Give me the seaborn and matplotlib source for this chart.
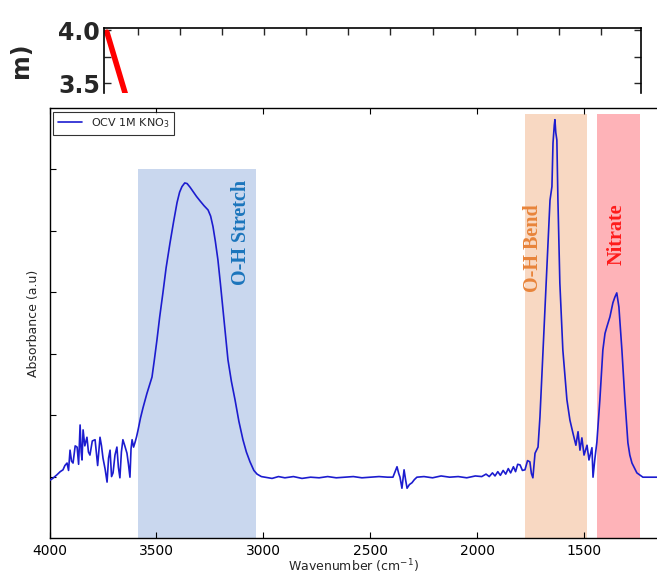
import numpy as np
import pandas as pd
import matplotlib
matplotlib.use("Agg")
import matplotlib.pyplot as plt
import seaborn as sns

sns.set_style("white")
plt.rcParams['font.family'] = ['DejaVu Sans']

# ---------------- data ----------------
wavenumber = [
    3998, 3985, 3965, 3950, 3937, 3928, 3918, 3911, 3904, 3897, 3890, 3880, 3871, 3864, 3857,
    3852, 3848, 3843, 3835, 3825, 3818, 3811, 3800, 3787, 3775, 3764, 3757, 3750, 3740, 3731,
    3724, 3717, 3710, 3703, 3694, 3685, 3678, 3671, 3664, 3657, 3648, 3638, 3631, 3624, 3619,
    3614, 3607, 3600, 3593, 3586,
    3575, 3563, 3545, 3521, 3510, 3498, 3485, 3470, 3455, 3437, 3420, 3404, 3392, 3381, 3368,
    3357, 3343, 3329, 3313, 3297, 3278, 3259, 3247, 3236, 3225, 3213, 3201, 3189, 3177, 3166,
    3150, 3133, 3115, 3096, 3080, 3063, 3045, 3030, 3010, 2993,
    2960, 2930, 2900, 2860, 2820, 2780, 2740, 2700, 2660, 2620, 2580, 2540, 2500,
    2460, 2420, 2395,
    2376, 2368, 2362, 2353, 2343, 2336, 2329, 2318, 2306, 2295, 2283,
    2250, 2210, 2170, 2130, 2090, 2050, 2010, 1980, 1960, 1945, 1930, 1918, 1905,
    1893, 1880, 1868, 1856, 1845, 1832, 1822, 1812, 1801, 1790, 1778, 1766, 1755,
    1748, 1741, 1731, 1717, 1708, 1694, 1675, 1661, 1652, 1647, 1641, 1638, 1634, 1629, 1624,
    1615, 1601, 1582, 1568, 1554, 1540, 1530, 1521, 1512, 1502, 1488, 1479, 1465,
    1460, 1451, 1442, 1435, 1428, 1414, 1404, 1395, 1381, 1367, 1358, 1349, 1339, 1325, 1311,
    1297, 1288, 1278, 1255, 1227, 1195, 1162,
]
absorbance = [
    0.094, 0.097, 0.103, 0.108, 0.111, 0.118, 0.122, 0.110, 0.143, 0.125, 0.122, 0.150, 0.148,
    0.120, 0.184, 0.140, 0.127, 0.176, 0.150, 0.164, 0.140, 0.135, 0.158, 0.160, 0.118, 0.164,
    0.150, 0.130, 0.112, 0.091, 0.130, 0.143, 0.100, 0.106, 0.135, 0.148, 0.115, 0.098, 0.140,
    0.160, 0.150, 0.138, 0.120, 0.099, 0.145, 0.160, 0.148, 0.156, 0.165, 0.176,
    0.195, 0.212, 0.235, 0.262, 0.290, 0.322, 0.360, 0.399, 0.440, 0.480, 0.515, 0.546, 0.563,
    0.572, 0.578, 0.577, 0.571, 0.564, 0.556, 0.549, 0.541, 0.534, 0.524, 0.507, 0.483, 0.453,
    0.413, 0.371, 0.330, 0.290, 0.255, 0.225, 0.190, 0.160, 0.140, 0.124, 0.110, 0.104, 0.100,
    0.099,
    0.097, 0.100, 0.098, 0.100, 0.097, 0.099, 0.098, 0.100, 0.098, 0.099, 0.100, 0.098, 0.099,
    0.100, 0.099, 0.099,
    0.116, 0.105, 0.099, 0.081, 0.111, 0.095, 0.081, 0.087, 0.090, 0.095, 0.099,
    0.100, 0.098, 0.101, 0.099, 0.100, 0.098, 0.101, 0.100, 0.104, 0.100, 0.106, 0.101, 0.108,
    0.102, 0.110, 0.104, 0.113, 0.106, 0.116, 0.108, 0.120, 0.119, 0.110, 0.111, 0.126, 0.124,
    0.105, 0.098, 0.138, 0.148, 0.197, 0.301, 0.441, 0.550, 0.572, 0.643, 0.672, 0.681, 0.660,
    0.648, 0.550,
    0.415, 0.306, 0.225, 0.192, 0.171, 0.151, 0.173, 0.143, 0.163, 0.135, 0.151, 0.127, 0.147,
    0.099, 0.130, 0.156, 0.190, 0.225, 0.306, 0.333, 0.344, 0.360, 0.383, 0.392, 0.399, 0.376,
    0.306, 0.225, 0.155, 0.135, 0.122, 0.106, 0.099, 0.099, 0.099,
]
series_label = "OCV 1M KNO$_3$"

band_names = ["O-H Stretch", "O-H Bend", "Nitrate"]
band_start = [3586, 1778, 1442]
band_end = [3035, 1488, 1241]
band_top = [0.601, 0.690, 0.690]
band_label_x = [3105, 1740, 1348]
band_label_y = [0.497, 0.472, 0.495]

x_ticks = [4000, 3500, 3000, 2500, 2000, 1500]
y_ticks = [0.1, 0.2, 0.3, 0.4, 0.5, 0.6]

# fragment of an upper panel (partly visible at the top)
frag_x = [-0.73, -0.22]
frag_y = [3.98, 3.30]
frag_yticks = [3.5, 4.0]
frag_yticklabels = ["3.5", "4.0"]

# ---------------- figure ----------------
W, H = 657, 576
fig = plt.figure(figsize=(W / 100, H / 100), dpi=100)

def rect(l, t, r, b):
    return [l / W, 1 - b / H, (r - l) / W, (b - t) / H]

# top fragment
axf = fig.add_axes(rect(104, 28, 641, 93))
sns.lineplot(x=frag_x, y=frag_y, ax=axf, color="#ff0000", linewidth=4, legend=False)
axf.set_xlim(-0.8, 11.95)
axf.set_ylim(3.406, 4.02)
axf.set_xticks(range(12))
axf.set_xticklabels([])
axf.set_yticks(frag_yticks)
axf.set_yticks([3.75], minor=True)
axf.set_yticklabels(frag_yticklabels, fontsize=17, fontweight="bold")
axf.tick_params(axis="both", which="both", direction="in", top=True, bottom=False,
                right=True, left=True, length=5, width=1, pad=3)
axf.tick_params(axis="y", which="major", pad=3)
for s in ["top", "left", "right"]:
    axf.spines[s].set_color("black")
    axf.spines[s].set_linewidth(1.2)
axf.spines["bottom"].set_visible(False)
axf.set_ylabel("m)", fontsize=17, fontweight="bold", labelpad=18)

# main panel
ax = fig.add_axes(rect(49.5, 108, 657, 538))
band_colors = ["#c9d7ee", "#f8d8c2", "#feb3b8"]
text_colors = ["#1b75bc", "#e8843a", "#ff1a1a"]
for name, s, e, t, lx, ly, bc, tc in zip(band_names, band_start, band_end, band_top,
                                          band_label_x, band_label_y, band_colors, text_colors):
    ax.fill_between([s, e], [0, 0], [t, t], color=bc, linewidth=0, zorder=0)
    ax.text(lx, ly, name, rotation=90, ha="center", va="center", color=tc,
            fontsize=14.5, fontweight="bold", family=["Liberation Serif", "DejaVu Serif"])

df = pd.DataFrame({"Wavenumber": wavenumber, "Absorbance": absorbance})
sns.lineplot(data=df, x="Wavenumber", y="Absorbance", ax=ax, sort=False, estimator=None,
             color="#1c1ccf", linewidth=1.2, label=series_label, zorder=3)

ax.set_xlim(4000, 1161)
ax.set_ylim(0, 0.70)
ax.set_xticks(x_ticks)
ax.set_xticklabels([str(v) for v in x_ticks], fontsize=10)
ax.set_yticks(y_ticks)
ax.set_yticklabels([])
ax.tick_params(axis="both", which="major", direction="in", top=True, bottom=True,
               left=True, right=False, length=4, width=0.8, pad=4, colors="black")
for s in ["top", "left", "bottom"]:
    ax.spines[s].set_color("black")
    ax.spines[s].set_linewidth(1.0)
ax.spines["right"].set_visible(False)
ax.set_xlabel("Wavenumber (cm$^{-1}$)", fontsize=9, labelpad=0)
ax.set_ylabel("Absorbance (a.u)", fontsize=9, labelpad=3)

leg = ax.legend(loc="upper left", fontsize=8, frameon=True, fancybox=False,
                borderaxespad=0.35, handlelength=2.2, borderpad=0.4)
leg.get_frame().set_edgecolor("black")
leg.get_frame().set_linewidth(0.8)

fig.savefig("out.png", dpi=100)
